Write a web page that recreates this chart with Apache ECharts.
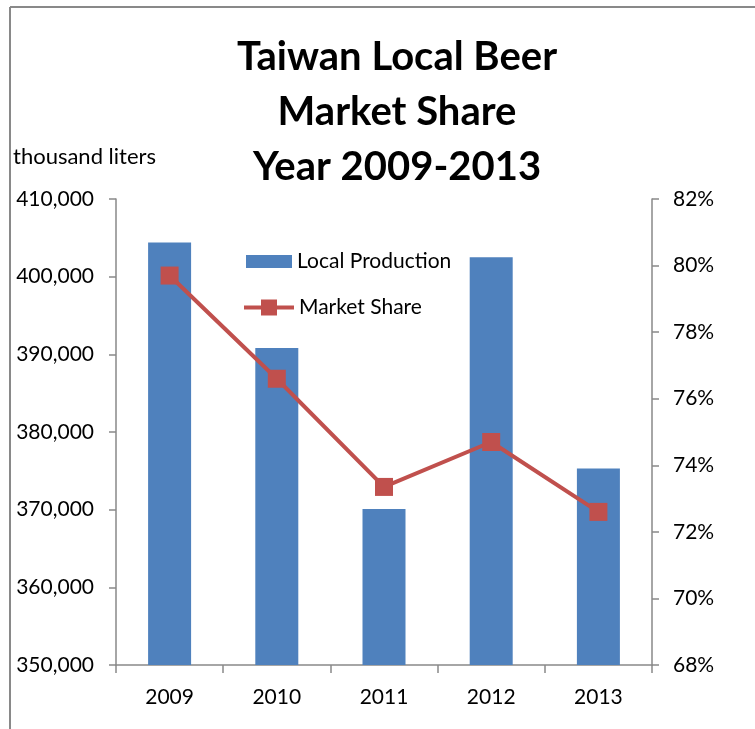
<!DOCTYPE html>
<html>
<head>
<meta charset="utf-8">
<script src="https://cdn.jsdelivr.net/npm/echarts@6/dist/echarts.min.js"></script>
<style>
html,body{margin:0;padding:0;background:#fff;}
#chart{width:755px;height:729px;}
</style>
</head>
<body>
<div id="chart"></div>
<script>
const categories = ['2009', '2010', '2011', '2012', '2013'];
const localProduction = [404400, 390800, 370100, 402500, 375300];
const marketShare = [79.7, 76.6, 73.35, 74.7, 72.6];
const leftTicks = [350000, 360000, 370000, 380000, 390000, 400000, 410000];
const rightTicks = [68, 70, 72, 74, 76, 78, 80, 82];

const FONT = 'Lato';
const chart = echarts.init(document.getElementById('chart'));
chart.setOption({
  animation: false,
  backgroundColor: '#fff',
  textStyle: { fontFamily: FONT },
  title: {
    text: 'Taiwan Local Beer\nMarket Share\nYear 2009-2013',
    left: 392, top: 25, textAlign: 'center',
    textStyle: { fontFamily: FONT, fontWeight: 'bold', fontSize: 40, lineHeight: 55, color: '#000' }
  },
  graphic: [
    { type: 'line', shape: { x1: 10, y1: 7, x2: 10, y2: 729 }, style: { stroke: '#898989', lineWidth: 2 } },
    { type: 'line', shape: { x1: 10, y1: 7, x2: 755, y2: 7 }, style: { stroke: '#898989', lineWidth: 2 } },
    { type: 'text', left: 13, top: 146, style: { text: 'thousand liters', fontFamily: FONT, fontSize: 22, fill: '#000' } }
  ],
  legend: [
    {
      left: 241, top: 246, itemWidth: 46, itemHeight: 13, itemGap: 0,
      textStyle: { fontFamily: FONT, fontSize: 21, color: '#000' },
      data: [{ name: 'Local Production', icon: 'rect' }]
    },
    {
      left: 237, top: 292, itemWidth: 50, itemHeight: 20, itemGap: 0,
      lineStyle: { width: 4 },
      textStyle: { fontFamily: FONT, fontSize: 21, color: '#000' },
      data: [{ name: 'Market Share' }]
    }
  ],
  grid: { left: 116, right: 103, top: 199, bottom: 64 },
  xAxis: {
    type: 'category', data: categories,
    axisLine: { show: true, lineStyle: { color: '#898989', width: 1.5 } },
    axisTick: { show: true, alignWithLabel: false, length: 8, lineStyle: { color: '#898989', width: 1.5 } },
    axisLabel: { fontSize: 21, color: '#000', margin: 22, fontFamily: FONT }
  },
  yAxis: [
    {
      type: 'value', min: leftTicks[0], max: leftTicks[leftTicks.length - 1], interval: 10000,
      axisLine: { show: true, lineStyle: { color: '#898989', width: 1.5 } },
      axisTick: { show: true, length: 7, lineStyle: { color: '#898989', width: 1.5 } },
      splitLine: { show: false },
      axisLabel: { fontSize: 21, color: '#000', margin: 22, fontFamily: FONT,
        formatter: v => v.toLocaleString('en-US') }
    },
    {
      type: 'value', min: rightTicks[0], max: rightTicks[rightTicks.length - 1], interval: 2,
      position: 'right',
      axisLine: { show: true, lineStyle: { color: '#898989', width: 1.5 } },
      axisTick: { show: true, length: 7, lineStyle: { color: '#898989', width: 1.5 } },
      splitLine: { show: false },
      axisLabel: { fontSize: 21, color: '#000', margin: 21, fontFamily: FONT,
        formatter: v => v + '%' }
    }
  ],
  series: [
    {
      name: 'Local Production', type: 'bar', data: localProduction,
      barWidth: 43, itemStyle: { color: '#4F81BD' }
    },
    {
      name: 'Market Share', type: 'line', yAxisIndex: 1, data: marketShare,
      symbol: 'rect', symbolSize: 18,
      lineStyle: { color: '#C0504D', width: 4 },
      itemStyle: { color: '#C0504D' }
    }
  ]
});
</script>
</body>
</html>
